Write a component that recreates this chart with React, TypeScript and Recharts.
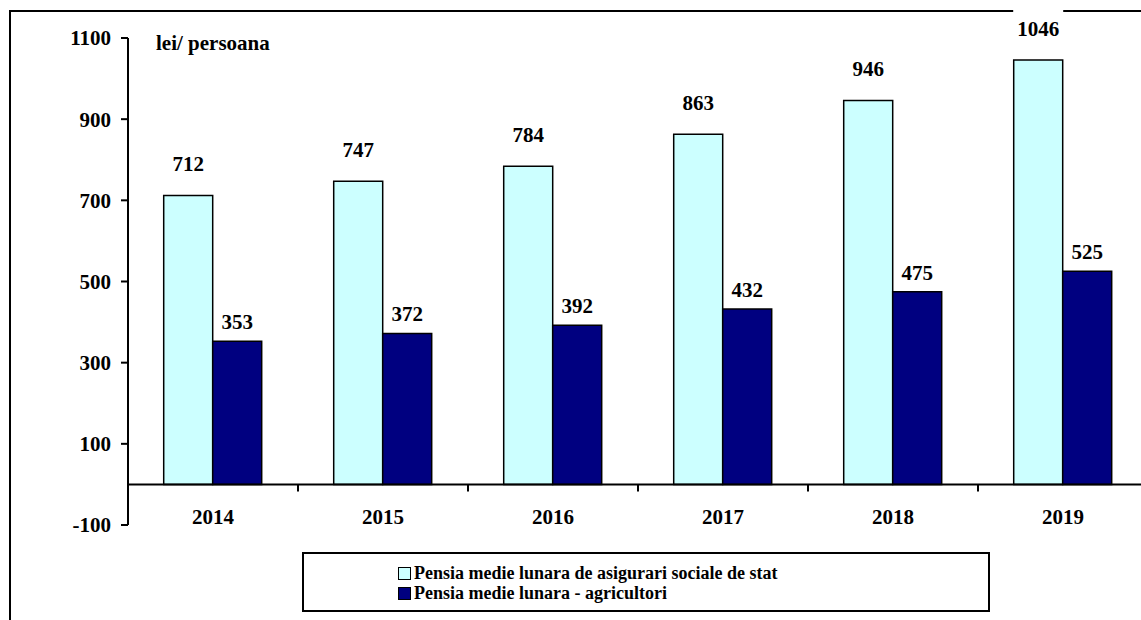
import React from "react";
import { BarChart, Bar, XAxis, YAxis, ReferenceLine, Legend, LabelList } from "recharts";

const years = ["2014", "2015", "2016", "2017", "2018", "2019"];
const statePension = [712, 747, 784, 863, 946, 1046];
const farmerPension = [353, 372, 392, 432, 475, 525];
const yTicks = [-100, 100, 300, 500, 700, 900, 1100];

const seriesNames = {
    state: "Pensia medie lunara de asigurari sociale de stat",
    farmer: "Pensia medie lunara - agricultori",
};

const data = years.map((year, i) => ({
    year,
    state: statePension[i],
    farmer: farmerPension[i],
}));

const FONT = '"Liberation Serif", "Times New Roman", serif';
const LIGHT = "#CCFFFF";
const DARK = "#000080";

function makeValueLabel(offset: number, clearBg: boolean) {
    return (props: any) => {
        const { x, y, width, value } = props;
        const cx = Number(x) + Number(width) / 2;
        const base = Number(y) - offset;
        const w = String(value).length * 10 + 10;
        return (
            <g>
                {clearBg && <rect x={cx - w / 2} y={base - 26} width={w} height={30} fill="#fff" />}
                <text x={cx} y={base} textAnchor="middle" fontFamily={FONT} fontWeight="bold" fontSize={21} fill="#000">
                    {value}
                </text>
            </g>
        );
    };
}

function ZeroAxis(props: any) {
    const { x1, y1, x2 } = props;
    const step = (x2 - x1) / years.length;
    return (
        <g>
            <line x1={x1} y1={y1} x2={x2} y2={y1} stroke="#000" strokeWidth={2} />
            {years.slice(1).map((_, i) => (
                <line key={i} x1={x1 + step * (i + 1)} y1={y1} x2={x1 + step * (i + 1)} y2={y1 + 7} stroke="#000" strokeWidth={2} />
            ))}
        </g>
    );
}

function YearTick(props: any) {
    const { x, y, payload } = props;
    return (
        <text x={x} y={y - 1} textAnchor="middle" fontFamily={FONT} fontWeight="bold" fontSize={21} fill="#000">
            {payload.value}
        </text>
    );
}

function LegendBox() {
    const items = [
        { name: seriesNames.state, color: LIGHT },
        { name: seriesNames.farmer, color: DARK },
    ];
    return (
        <div
            style={{
                boxSizing: "border-box",
                width: 688,
                height: 60,
                border: "2px solid #000",
                background: "#fff",
                paddingTop: 9,
                paddingLeft: 94,
                fontFamily: FONT,
                fontWeight: "bold",
                fontSize: 18,
                color: "#000",
                textAlign: "left",
            }}
        >
            {items.map((it) => (
                <div key={it.name} style={{ display: "flex", alignItems: "center", height: 20, lineHeight: "20px" }}>
                    <span
                        style={{
                            display: "inline-block",
                            boxSizing: "border-box",
                            width: 13,
                            height: 13,
                            background: it.color,
                            border: "1.5px solid #000",
                            marginRight: 3,
                        }}
                    />
                    {it.name}
                </div>
            ))}
        </div>
    );
}

export default function App() {
    return (
        <div style={{ position: "absolute", left: 0, top: 0, width: 1141, height: 620, overflow: "hidden", background: "#fff" }}>
            <div
                style={{
                    position: "absolute",
                    left: 9,
                    top: 10,
                    width: 1300,
                    height: 800,
                    border: "2px solid #000",
                }}
            />
            <div style={{ position: "absolute", left: 0, top: 0 }}>
                <BarChart
                    width={1160}
                    height={620}
                    data={data}
                    margin={{ top: 38, right: 12, bottom: 65, left: 0 }}
                    barCategoryGap="21%"
                    barGap={0}
                >
                    <XAxis
                        dataKey="year"
                        height={30}
                        axisLine={false}
                        tickLine={false}
                        tickSize={0}
                        tickMargin={0}
                        tick={<YearTick />}
                        interval={0}
                    />
                    <YAxis
                        width={128}
                        domain={[-100, 1100]}
                        ticks={yTicks}
                        interval={0}
                        tickSize={7}
                        tickMargin={10}
                        axisLine={{ stroke: "#000", strokeWidth: 2 }}
                        tickLine={{ stroke: "#000", strokeWidth: 2 }}
                        tick={{ fill: "#000", fontFamily: FONT, fontWeight: "bold", fontSize: 21 }}
                        label={(p: any) => {
                            const vb = p.viewBox || {};
                            return (
                                <text
                                    x={(vb.x || 0) + (vb.width || 0) + 28}
                                    y={(vb.y || 0) + 12}
                                    fontFamily={FONT}
                                    fontWeight="bold"
                                    fontSize={21}
                                    fill="#000"
                                >
                                    lei/ persoana
                                </text>
                            );
                        }}
                    />
                    <Legend
                        layout="horizontal"
                        verticalAlign="middle"
                        align="center"
                        content={() => <LegendBox />}
                        wrapperStyle={{ position: "absolute", left: 302, top: 552, width: 688, height: 60 }}
                    />
                    <Bar dataKey="state" name={seriesNames.state} fill={LIGHT} stroke="#000" strokeWidth={1.5} isAnimationActive={false}>
                        <LabelList dataKey="state" content={makeValueLabel(24, true)} />
                    </Bar>
                    <Bar dataKey="farmer" name={seriesNames.farmer} fill={DARK} stroke="#000" strokeWidth={1.5} isAnimationActive={false}>
                        <LabelList dataKey="farmer" content={makeValueLabel(12, false)} />
                    </Bar>
                    <ReferenceLine y={0} shape={<ZeroAxis />} ifOverflow="visible" />
                </BarChart>
            </div>
        </div>
    );
}
